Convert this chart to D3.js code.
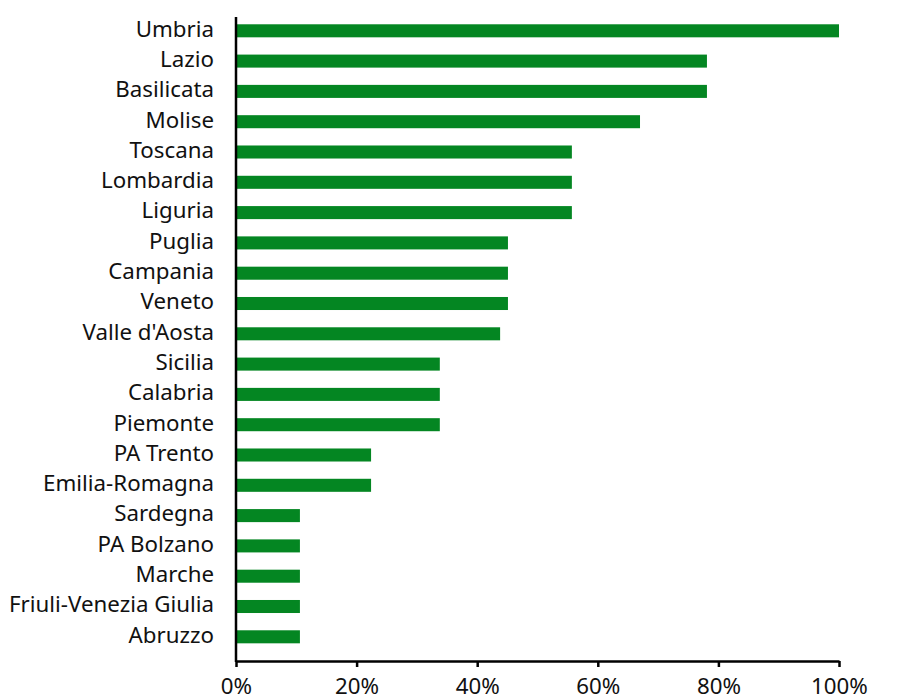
<!DOCTYPE html>
<html><head><meta charset="utf-8">
<script src="https://cdn.jsdelivr.net/npm/d3@7"></script>
<style>body{margin:0;background:#fff}svg{display:block}text{font-family:"Noto Sans",sans-serif;fill:#111}</style>
</head><body><svg id="c" width="903" height="697"></svg>
<script>
const regions = ["Umbria","Lazio","Basilicata","Molise","Toscana","Lombardia","Liguria","Puglia","Campania","Veneto","Valle d'Aosta","Sicilia","Calabria","Piemonte","PA Trento","Emilia-Romagna","Sardegna","PA Bolzano","Marche","Friuli-Venezia Giulia","Abruzzo"];
const values = [100,78.1,78.1,67.0,55.7,55.7,55.7,45.1,45.1,45.1,43.8,33.8,33.8,33.8,22.4,22.4,10.6,10.6,10.6,10.6,10.6];
const xTicks = [0,20,40,60,80,100];

const svg = d3.select("#c");
const x0 = 236, x1 = 839, yTop = 17, yBot = 661;
const x = d3.scaleLinear().domain([0,100]).range([x0,x1]);
const y = d3.scaleBand().domain(regions).range([15.65,651.95]).paddingInner(0.57).paddingOuter(0.285);

svg.selectAll("rect.bar").data(regions).join("rect")
  .attr("class","bar")
  .attr("x", x(0))
  .attr("y", d=>y(d))
  .attr("width", (d,i)=>x(values[i])-x(0))
  .attr("height", y.bandwidth())
  .attr("fill","#048622");

// y labels
const yAxis = d3.axisLeft(y).tickSize(0).tickPadding(22);
const gy = svg.append("g").attr("transform",`translate(${x0},0)`).call(yAxis);
gy.select(".domain").remove();
gy.selectAll("text").attr("dy","0.26em").style("font-size","22.3px").style("font-family","'Noto Sans',sans-serif").attr("fill","#111");

// x axis
const xAxis = d3.axisBottom(x).tickValues(xTicks).tickFormat(d=>d+"%").tickSize(6).tickSizeOuter(0).tickPadding(11);
const gx = svg.append("g").attr("transform",`translate(0,${yBot})`).call(xAxis);
gx.select(".domain").attr("stroke","#000").attr("stroke-width",2.5);
gx.selectAll(".tick line").attr("stroke","#000").attr("stroke-width",2.5);
gx.selectAll("text").style("font-size","22.3px").style("font-family","'Noto Sans',sans-serif").attr("fill","#111");

// vertical axis line
svg.append("line").attr("x1",x0).attr("x2",x0).attr("y1",yTop).attr("y2",yBot+1)
  .attr("stroke","#000").attr("stroke-width",2.5);
</script></body></html>
